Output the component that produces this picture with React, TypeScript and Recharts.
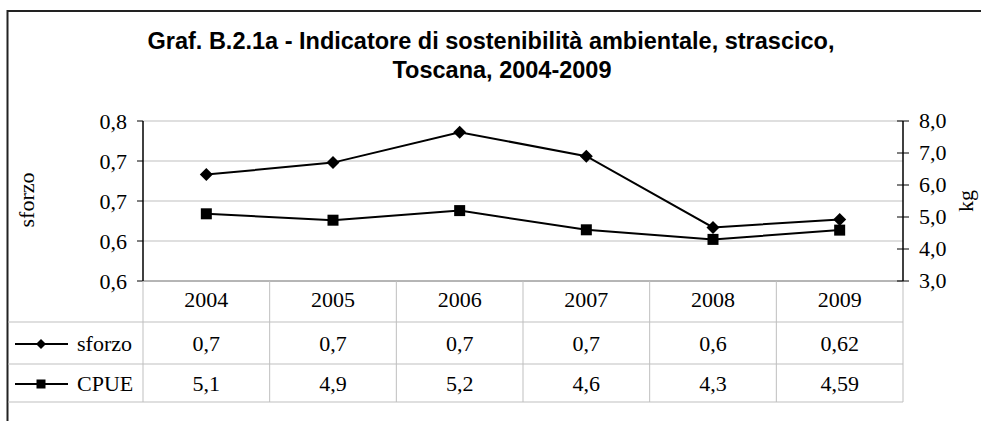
import { LineChart, Line, XAxis, YAxis, CartesianGrid } from 'recharts'

const years = ['2004', '2005', '2006', '2007', '2008', '2009']
const sforzo = [0.733, 0.748, 0.786, 0.756, 0.667, 0.677]
const cpue = [5.1, 4.9, 5.2, 4.6, 4.3, 4.59]
const sforzoTable = ['0,7', '0,7', '0,7', '0,7', '0,6', '0,62']
const cpueTable = ['5,1', '4,9', '5,2', '4,6', '4,3', '4,59']
const leftTicks = [0.6, 0.65, 0.7, 0.75, 0.8]
const leftTickLabels = ['0,6', '0,6', '0,7', '0,7', '0,8']
const rightTicks = [3, 4, 5, 6, 7, 8]
const rightTickLabels = ['3,0', '4,0', '5,0', '6,0', '7,0', '8,0']

const data = years.map((year, i) => ({ year, sforzo: sforzo[i], cpue: cpue[i] }))

const W = 981
const H = 421
const AXIS_W = 60
const MARGIN = { top: 121, right: 18, bottom: 99, left: 83 }
const PLOT_W = W - MARGIN.left - MARGIN.right - 2 * AXIS_W
const COL_W = PLOT_W / years.length
const TABLE_LEFT = 8
const SERIF = '"Liberation Serif", "Times New Roman", serif'
const SANS = '"Liberation Sans", Arial, sans-serif'
const FS = 22
const GRID = '#bfbfbf'

function Diamond({ cx, cy, r }: { cx: number; cy: number; r: number }) {
  return <path d={`M${cx},${cy - r}L${cx + r},${cy}L${cx},${cy + r}L${cx - r},${cy}Z`} fill="#000" />
}

function Square({ cx, cy, r }: { cx: number; cy: number; r: number }) {
  return <rect x={cx - r} y={cy - r} width={r * 2} height={r * 2} fill="#000" />
}

// x axis ticks double as the data table under the plot
function TableTick(props: any) {
  const { x, y, index } = props
  const left = x - COL_W / 2
  const right = x + COL_W / 2
  const r1 = y + 41
  const r2 = y + 83
  const r3 = y + 121
  const m2 = (r1 + r2) / 2 + 1
  const m3 = (r2 + r3) / 2 + 1
  const tableRight = x + COL_W * (years.length - 0.5 - index)
  return (
    <g fontFamily={SERIF} fontSize={FS} fill="#000">
      {index === 0 && (
        <g>
          <line x1={left} y1={y} x2={left} y2={r3} stroke={GRID} />
          {[r1, r2, r3].map((ry) => (
            <line key={ry} x1={TABLE_LEFT} y1={ry} x2={tableRight} y2={ry} stroke={GRID} />
          ))}
          <line x1={15} y1={m2} x2={68} y2={m2} stroke="#000" strokeWidth={2} />
          <Diamond cx={41} cy={m2} r={5} />
          <text x={77} y={m2 + 7}>sforzo</text>
          <line x1={15} y1={m3} x2={68} y2={m3} stroke="#000" strokeWidth={2} />
          <Square cx={41} cy={m3} r={4.5} />
          <text x={77} y={m3 + 7}>CPUE</text>
        </g>
      )}
      <line x1={right} y1={y} x2={right} y2={r3} stroke={GRID} />
      <text x={x} y={y + 26} textAnchor="middle">{years[index]}</text>
      <text x={x} y={m2 + 7} textAnchor="middle">{sforzoTable[index]}</text>
      <text x={x} y={m3 + 7} textAnchor="middle">{cpueTable[index]}</text>
    </g>
  )
}

function RightTick(props: any) {
  const { x, y, index } = props
  const axisX = x - 15
  return (
    <g>
      <line x1={axisX - 6} y1={y} x2={axisX + 6} y2={y} stroke="#000" />
      <text x={x + 1} y={y + 7} fontFamily={SERIF} fontSize={FS} fill="#000">{rightTickLabels[index]}</text>
    </g>
  )
}

export default function App() {
  return (
    <div style={{ position: 'relative', width: W, height: H, background: '#fff', overflow: 'hidden' }}>
      <style>{'html, body { margin: 0; padding: 0; overflow: hidden; }'}</style>
      <svg width={W} height={H} style={{ position: 'absolute', left: 0, top: 0 }}>
        <line x1={7.5} y1={11} x2={W} y2={11} stroke="#222" strokeWidth={2} />
        <line x1={7.5} y1={10} x2={7.5} y2={H} stroke="#222" strokeWidth={2} />
        <text x={491} y={49} textAnchor="middle" fontFamily={SANS} fontWeight="bold" fontSize={23.5} fill="#000">
          Graf. B.2.1a - Indicatore di sostenibilità ambientale, strascico,
        </text>
        <text x={502} y={78} textAnchor="middle" fontFamily={SANS} fontWeight="bold" fontSize={23.5} fill="#000">
          Toscana, 2004-2009
        </text>
        <text transform="translate(34,200) rotate(-90)" textAnchor="middle" fontFamily={SERIF} fontSize={FS} fill="#000">sforzo</text>
        <text transform="translate(973,201) rotate(-90)" textAnchor="middle" fontFamily={SERIF} fontSize={FS} fill="#000">kg</text>
      </svg>
      <div style={{ position: 'absolute', left: 0, top: 0 }}>
        <LineChart width={W} height={H} data={data} margin={MARGIN}>
          <CartesianGrid yAxisId="left" vertical={false} stroke={GRID} />
          <XAxis
            dataKey="year"
            height={41}
            padding={{ left: COL_W / 2, right: COL_W / 2 }}
            axisLine={{ stroke: '#8c8c8c' }}
            tickLine={false}
            tickSize={0}
            tickMargin={0}
            interval={0}
            tick={<TableTick />}
          />
          <YAxis
            yAxisId="left"
            width={AXIS_W}
            domain={[0.6, 0.8]}
            ticks={leftTicks}
            tickFormatter={(_v: number, i: number) => leftTickLabels[i]}
            axisLine={{ stroke: '#000', strokeWidth: 1.5 }}
            tickLine={{ stroke: '#000' }}
            tickSize={6}
            tickMargin={10}
            tick={{ fontSize: FS, fill: '#000', fontFamily: SERIF }}
          />
          <YAxis
            yAxisId="right"
            orientation="right"
            width={AXIS_W}
            domain={[3, 8]}
            ticks={rightTicks}
            axisLine={{ stroke: '#000', strokeWidth: 1.5 }}
            tickLine={false}
            tickSize={6}
            tickMargin={9}
            tick={<RightTick />}
          />
          <Line
            yAxisId="left"
            dataKey="sforzo"
            stroke="#000"
            strokeWidth={2}
            isAnimationActive={false}
            dot={(p: any) => <Diamond key={`d${p.index}`} cx={p.cx} cy={p.cy} r={6.5} />}
          />
          <Line
            yAxisId="right"
            dataKey="cpue"
            stroke="#000"
            strokeWidth={2}
            isAnimationActive={false}
            dot={(p: any) => <Square key={`s${p.index}`} cx={p.cx} cy={p.cy} r={5.5} />}
          />
        </LineChart>
      </div>
    </div>
  )
}
